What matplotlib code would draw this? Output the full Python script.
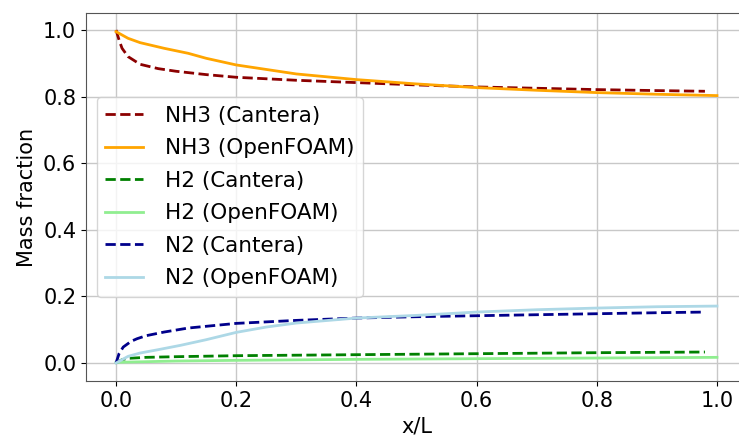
import matplotlib.pyplot as plt
import numpy as np

# species mass fractions along the reactor, Cantera vs OpenFOAM
x_nh3_ct = [0, 0.005, 0.01, 0.02, 0.04, 0.07, 0.1, 0.15, 0.2, 0.3, 0.4, 0.5, 0.6, 0.7, 0.8, 0.9, 0.98]
nh3_ct = [1.0, 0.97, 0.945, 0.92, 0.897, 0.884, 0.876, 0.866, 0.858, 0.849, 0.842, 0.835, 0.829, 0.825, 0.821, 0.818, 0.816]

x_nh3_of = [0, 0.02, 0.04, 0.08, 0.12, 0.15, 0.2, 0.3, 0.4, 0.5, 0.6, 0.7, 0.8, 0.9, 1.0]
nh3_of = [0.995, 0.975, 0.962, 0.945, 0.93, 0.915, 0.895, 0.868, 0.851, 0.838, 0.827, 0.819, 0.812, 0.807, 0.803]

x_h2_ct = [0, 0.01, 0.02, 0.05, 0.1, 0.2, 0.4, 0.6, 0.8, 0.98]
h2_ct = [0, 0.01, 0.014, 0.017, 0.019, 0.022, 0.025, 0.028, 0.031, 0.033]

x_h2_of = [0, 0.1, 0.2, 0.4, 0.6, 0.8, 1.0]
h2_of = [0.002, 0.006, 0.008, 0.011, 0.013, 0.015, 0.017]

x_n2_ct = [0, 0.005, 0.012, 0.025, 0.035, 0.05, 0.08, 0.12, 0.2, 0.3, 0.4, 0.5, 0.6, 0.7, 0.8, 0.9, 0.98]
n2_ct = [0, 0.028, 0.048, 0.065, 0.073, 0.082, 0.093, 0.105, 0.119, 0.128, 0.135, 0.139, 0.142, 0.145, 0.148, 0.151, 0.153]

x_n2_of = [0, 0.02, 0.04, 0.07, 0.107, 0.15, 0.2, 0.25, 0.3, 0.4, 0.5, 0.6, 0.7, 0.8, 0.9, 1.0]
n2_of = [0, 0.02, 0.03, 0.04, 0.053, 0.07, 0.092, 0.108, 0.12, 0.135, 0.143, 0.153, 0.16, 0.165, 0.169, 0.171]

fig = plt.figure(figsize=(7.39, 4.38), dpi=100)
ax = fig.add_axes([86/739, 57/438, 661/739, 368/438])

lw = 2
ax.plot(x_nh3_ct, nh3_ct, '--', color='darkred', lw=lw, label='NH3 (Cantera)')
ax.plot(x_nh3_of, nh3_of, '-', color='orange', lw=lw, label='NH3 (OpenFOAM)')
ax.plot(x_h2_ct, h2_ct, '--', color='green', lw=lw, label='H2 (Cantera)')
ax.plot(x_h2_of, h2_of, '-', color='lightgreen', lw=lw, label='H2 (OpenFOAM)')
ax.plot(x_n2_ct, n2_ct, '--', color='darkblue', lw=lw, label='N2 (Cantera)')
ax.plot(x_n2_of, n2_of, '-', color='lightblue', lw=lw, label='N2 (OpenFOAM)')

ax.set_xlim(-0.05, 1.05)
ax.set_ylim(-0.054, 1.051)
ax.set_xticks(np.arange(0, 1.01, 0.2))
ax.set_yticks(np.arange(0, 1.01, 0.2))
ax.tick_params(labelsize=15)
ax.grid(True, color='#c8c8c8', lw=1)
for s in ax.spines.values():
    s.set_color('#555555')

ax.set_xlabel('x/L', fontsize=15, labelpad=4)
ax.set_ylabel('Mass fraction', fontsize=15)

ax.legend(loc='center left', fontsize=15.5, labelspacing=0.58,
          handlelength=1.75, handletextpad=1.0)

fig.savefig('out.png', dpi=100)
